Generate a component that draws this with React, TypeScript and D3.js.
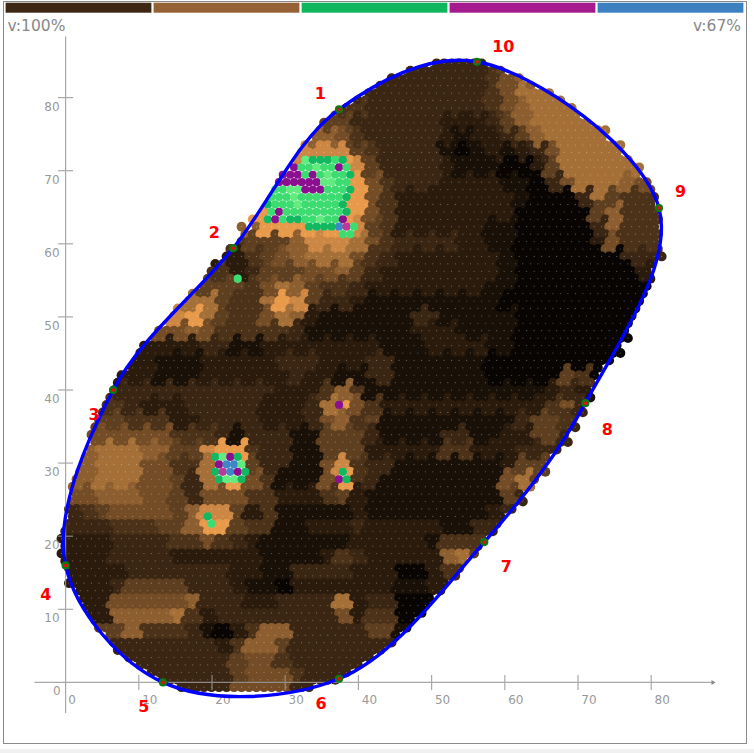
import React, { useEffect, useRef } from "react";
import * as d3 from "d3";

const W = 754, H = 753;
const levelColors = ["#080503","#191007","#2a1b0c","#3a2613","#4b3219","#5e3f20","#744d27","#8d5e2f","#a56f38","#cc8745","#e89a4b"];
const specialColors: Record<string,string> = { d:"#12b85f", m:"#3ddc70", l:"#62ec7f", p:"#8b0f8f", k:"#c0379b", b:"#3f86c6" };
const barColors = ["#3d2714","#956236","#0fb65d","#a51b8d","#3d80c0"];
const xTicks = [0,10,20,30,40,50,60,70,80];
const yTicks = [10,20,30,40,50,60,70,80];
const boundary: [number,number][] = [[37.35,78.4],[22.9,59.4],[6.5,40],[0,16],[13.3,0],[37.35,0.5],[57.2,19.2],[71,38.2],[81.06,64.9],[56.2,84.9]];
const boundaryLabels: [string,number,number][] = [["1",34.8,80.6],["2",20.3,61.6],["3",3.9,36.6],["4",-2.7,12],["5",10.7,-3.3],["6",34.9,-2.9],["7",60.2,15.8],["8",74,34.6],["9",84,67.2],["10",59.8,87]];
const overhang: [number,number][] = [[76.5,46.9],[75.5,44.9],[69.3,34.7],[68.4,32.8],[70.4,36.7],[71.4,38.7],[62.2,24.6],[65.5,28.7],[44.5,5.1],[46.5,7],[78.1,70.4],[75.5,73.5],[73.4,75.6],[72.3,75.7],[71.1,76.7],[81.2,58.2],[20.4,57.3],[19.5,56.2],[10.7,46.2],[7.6,42.1],[5.5,38],[3.6,33.9],[0.6,23.6],[-0.3,20.5],[-0.5,19.5],[-0.5,17.7],[0.3,13.4],[35,76.7],[32.4,73.5],[25.5,63.3],[24.5,62.3],[22.5,59.4]];
const specials: [number,number,string][] = [
  [70,32,"ldddmd"],[69,30,"pmmlmmpm"],[68,29,"pppmpmlmmd"],[67,28,"ppppppllmm"],[66,28,"mmllpppmmmd"],
  [65,27,"mmmlmmmmmmd"],[64,27,"dmmmlmmmmmd"],[63,27,"mpmmmmmmmmd"],[62,27,"dpmddmmlmmp"],[61,32,"ddddbkm"],[60,37,"mm"],
  [30,20,"dlpd"],[29,20,"pbbl"],[28,20,"dkbpd"],[27,20,"dlld"],[37,36,"p"],[22,19,"d"],[21,19,"m"],[54,23,"m"],[28,37,"d"],[27,36,"pd"],
];
// Shade level per 15px block, run-length: "level.count"
const levelRuns = [
"3.28 5.2 7.10",
"3.28 4 6 7 8.9",
"3.28 4 6 8.10",
"3.17 4.3 3.8 4 6 7 8.9",
"5.19 3.6 2.3 3 5 7 8.9",
"7.18 6 4 3.5 2 1 2 2 3 5 7 8.8",
"9.19 5 4 3.4 1 0 1 2 1 2 3 6 8.7",
"a.19 9 5 3.4 2 1 1 1 0 0 2 5 8.7",
"a.20 6 4 3.3 2.3 2 1 1 0 3 6 8.3 7 6 6",
"a.20 6 4 2.7 2 1 0.3 3 8 5 4.3",
"a.20 6 4 2.7 2 0.5 5 7 4.3",
"7.13 a.6 9 5 4 2.6 1 1 0.5 3 7 4.3",
"4.12 5.3 7 9.2 9 8 6 4 3.4 2.2 1 1 0.5 2 6 4.3",
"2.12 4 5 6 7 8.3 6 4 3 2.7 1 0.7 3.3",
"4.10 4 2 3 5 5 5 6 6 7 5 3 2.8 1 0.7 0 2 2",
"5.11 5 4 6 8 7 5 4 4 3 2 2.7 1.2 0.10",
"7.7 8.3 5 4.2 8 a 9 5 3 3 2 1.5 1.4 0.11",
"6.6 7 9 a 8 5 4.2 6 8 7 2 1 1 1 1.3 3.2 1.5 0.10",
"5.6 6 6 7 6 4.3 4.2 3 1.4 1.3 2.3 1.4 0.10",
"2.8 2 3 3 1.2 2.3 2.4 2 1.3 2.4 1.2 0.10",
"2.6 1.3 2.5 3.3 2.3 3.2 1.6 0.12",
"2.6 1.3 2.6 3 2.2 1.2 3.2 1.6 0.5 5 4 0.5",
"3.14 2.3 4 7 4 1 1.7 1.4 2 3 2 1.5",
"4.4 3 2.3 3.5 2.3 3 8 a 6 4 2.7 2.4 4 6 3.6",
"5.4 4 4.2 2.2 3.4 2.3 3 6 7 4 5 1.3 1.2 1.4 3 5.2 4 3.6",
"6.7 4.3 3 1 3.3 1.2 5.3 3 1.4 3.2 1.2 2.2 5.2 3.7",
"7.2 8.3 7.2 5.2 9 a.2 4 3.2 1.2 5.3 2.5 4.2 2.3 3.10",
"7.2 8.3 6.2 4.2 8 a.2 5 3.2 1.2 6 9 4 3.2 1.7 2 5 5.9",
"7.2 8.3 6.2 5 3 8 a.2 6 4 1.3 6 a 4 3 1.8 6 8 5.9",
"6 6 7.3 6.2 5 3 6.3 4.2 2.3 4 5 2 1.9 5 3.10",
"3 4 5 6.4 5 7 9.2 5 2 4 1.3 1.2 2 1.8 2 3.11",
"3.3 4.3 5.2 7 a.2 5 4.2 1.2 2.3 3 2.5 1.2 3.13",
"2.3 3.4 4.2 6 4 3 2 1 1.2 1.3 2.5 1 4.4 3.11",
"2.3 3.4 2.5 2 1.4 2 4 3 2.5 7 8 5.13",
"2.4 3.7 2.2 1.2 3.3 3 2.3 0.2 2 4.2 3.13",
"2.3 3 5.4 3.3 2 1.2 0 2.3 2.4 1.2 2.16",
"2.3 6.5 7 3.3 2.2 3.3 3 8 2 3.2 0.18",
"2.3 7.4 8 4 2 3.2 3.6 6 2 4.2 0.18",
"5.4 7 4.3 3 1 0 2 4 7.2 3.5 5.2 1.18",
"3.10 2 4 7.2 5 3.25",
"3.11 5 6.2 4 3.25",
"3.11 5 6.3 4 3.24",
"3.11 6.4 3.25",
];

export default function App() {
  const ref = useRef<SVGSVGElement>(null);
  useEffect(() => {
    const svg = d3.select(ref.current!);
    svg.selectAll("*").remove();
    const x = d3.scaleLinear().domain([0, 10]).range([65.6, 138.8]);
    const y = d3.scaleLinear().domain([0, 10]).range([682.4, 609.3]);
    const pathD = d3.line<[number,number]>().x(d => x(d[0])).y(d => y(d[1])).curve(d3.curveCatmullRomClosed.alpha(0.5))(boundary)!;
    const levelRows = levelRuns.map(s => s.split(" ").flatMap(t => {
      const [v, n] = t.split(".");
      return Array(n ? +n : 1).fill(v === "a" ? 10 : +v) as number[];
    }));

    svg.append("rect").attr("width", W).attr("height", H).attr("fill", "#fff");
    svg.append("rect").attr("y", 749).attr("width", W).attr("height", 4).attr("fill", "#f0f0f0");
    svg.append("rect").attr("x", 3.5).attr("y", 1.5).attr("width", 743).attr("height", 742).attr("fill", "none").attr("stroke", "#8a8a8a").attr("stroke-width", 1);

    barColors.forEach((c, i) => {
      svg.append("rect").attr("x", 5.6 + i * 148).attr("y", 2.7).attr("width", 145.8).attr("height", 10).attr("fill", c);
    });
    svg.append("text").text("v:100%").attr("x", 7.5).attr("y", 31).attr("fill", "#888").style("font", "15.5px 'DejaVu Sans'");
    svg.append("text").text("v:67%").attr("x", 741).attr("y", 31).attr("text-anchor", "end").attr("fill", "#888").style("font", "15.5px 'DejaVu Sans'");

    const probe = svg.append("path").attr("d", pathD).attr("fill", "none");
    const node = probe.node() as SVGPathElement;
    const len = node.getTotalLength();
    const poly: [number,number][] = d3.range(0, 400).map(k => {
      const p = node.getPointAtLength((k / 400) * len);
      return [p.x, p.y];
    });
    probe.remove();

    const stepX = 1.025, stepY = 1.016;
    const rowY = (r: number) => 0.36 + stepY * r;
    const colX = (r: number, c: number) => -0.055 + stepX * c + (r % 2 !== 0 ? stepX / 2 : 0);
    const specialMap = new Map<string,string>();
    specials.forEach(([r, c0, codes]) => codes.split("").forEach((ch, i) => specialMap.set(`${r}:${c0 + i}`, ch)));

    const base = svg.append("g");
    const dots = svg.append("g");
    const pips = svg.append("g");
    const cell = 15 / 7.32;
    const mod3 = (n: number) => ((n % 3) + 3) % 3;
    for (let r = 84; r >= -1; r--) {
      for (let c = -2; c <= 83; c++) {
        const dx = colX(r, c), dy = rowY(r);
        const px = x(dx), py = y(dy);
        const sp = specialMap.get(`${r}:${c}`);
        const inside = d3.polygonContains(poly, [px, py]) || overhang.some(o => Math.hypot(x(o[0]) - px, y(o[1]) - py) < 3.8);
        if (!inside && !sp) continue;
        const sx = (mod3(c + 2 * r) - 1) * 0.18 * cell;
        const sy = (mod3(2 * c + r) - 1) * 0.18 * cell;
        const j = Math.max(0, Math.min(levelRows.length - 1, Math.floor((85.84 - dy + sy) / cell)));
        const i = Math.max(0, Math.min(39, Math.floor((dx + sx) / cell)));
        const lv = levelRows[j][i] ?? 3;
        if (sp) {
          dots.append("circle").attr("cx", px).attr("cy", py).attr("r", 4.1).attr("fill", specialColors[sp]);
        } else {
          base.append("circle").attr("cx", px).attr("cy", py).attr("r", 4.9).attr("fill", levelColors[lv]);
          pips.append("circle").attr("cx", px).attr("cy", py).attr("r", 0.6).attr("fill", "#fff").attr("opacity", 0.33);
        }
      }
    }

    const axis = svg.append("g").attr("stroke", "#9a9a9a").attr("stroke-width", 1.2).attr("fill", "none").attr("opacity", 0.85);
    axis.append("line").attr("x1", x(0)).attr("x2", x(0)).attr("y1", 36.5).attr("y2", 713);
    axis.append("line").attr("x1", 34.5).attr("x2", 713).attr("y1", y(0)).attr("y2", y(0));
    svg.append("path").attr("d", `M715.5,${y(0)}l-4,-2.5v5z`).attr("fill", "#888");
    xTicks.slice(1).forEach(t => axis.append("line").attr("x1", x(t)).attr("x2", x(t)).attr("y1", y(0) - 7.5).attr("y2", y(0) + 7.5));
    yTicks.forEach(t => axis.append("line").attr("x1", x(0) - 7.5).attr("x2", x(0) + 7.5).attr("y1", y(t)).attr("y2", y(t)));
    xTicks.forEach(t => svg.append("text").text(t).attr("x", x(t) + (t === 0 ? 6.5 : 11)).attr("y", y(0) + 22).attr("text-anchor", "middle").attr("fill", "#999").style("font", "12px 'DejaVu Sans'"));
    yTicks.forEach(t => svg.append("text").text(t).attr("x", x(0) - 6).attr("y", y(t) + 13).attr("text-anchor", "end").attr("fill", "#999").style("font", "12px 'DejaVu Sans'"));
    svg.append("text").text(0).attr("x", x(0) - 5).attr("y", y(0) + 13).attr("text-anchor", "end").attr("fill", "#999").style("font", "12px 'DejaVu Sans'");

    svg.append("path").attr("d", pathD).attr("fill", "none").attr("stroke", "#0000ff").attr("stroke-width", 3.4);
    boundary.forEach(p => {
      svg.append("circle").attr("cx", x(p[0])).attr("cy", y(p[1])).attr("r", 3).attr("fill", "#e01010").attr("stroke", "#0a7a14").attr("stroke-width", 2.2);
    });
    boundaryLabels.forEach(([t, lx, ly]) => {
      svg.append("text").text(t).attr("x", x(lx)).attr("y", y(ly)).attr("text-anchor", "middle").attr("dominant-baseline", "central").attr("fill", "#ff0000").style("font", "bold 16px 'DejaVu Sans'");
    });
  }, []);
  return <svg ref={ref} width={W} height={H} style={{ position: "fixed", left: 0, top: 0, display: "block" }} />;
}
